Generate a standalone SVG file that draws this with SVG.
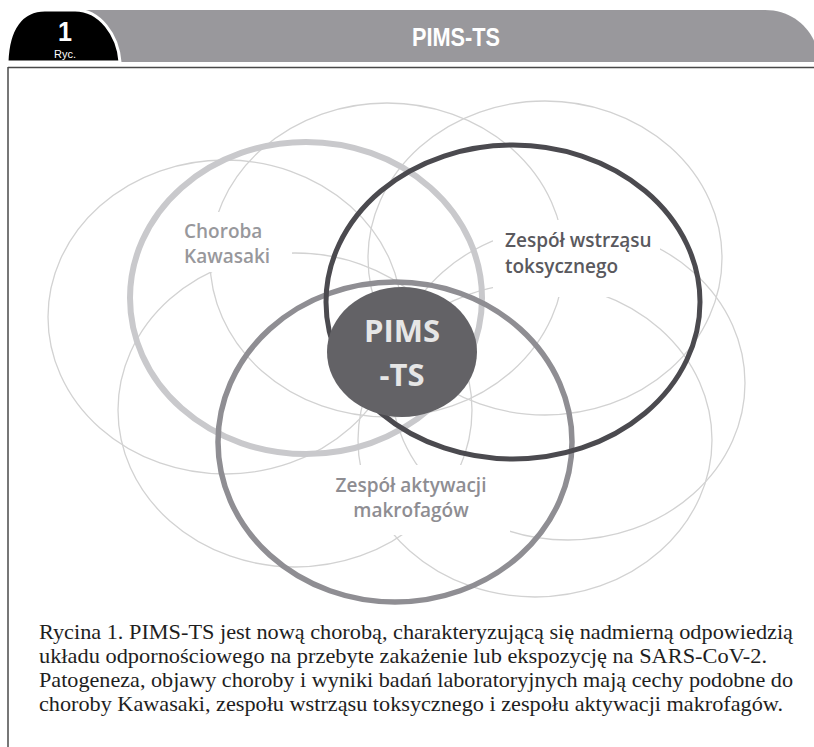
<svg xmlns="http://www.w3.org/2000/svg" width="814" height="747" viewBox="0 0 814 747">
<style>
.thin{fill:none;stroke:#d2d2d2;stroke-width:1.3}
.ring{fill:none}
.lbl{font-family:"Open Sans","Liberation Sans",sans-serif;font-weight:600;font-size:19px}
.cap{font-family:"Liberation Serif","Times New Roman",serif;font-size:21px;fill:#1e1e1e}
</style>
<defs>
<mask id="gaps" maskUnits="userSpaceOnUse" x="0" y="0" width="814" height="747">
<rect x="0" y="0" width="814" height="747" fill="#fff"/>
<rect x="178" y="212" width="114" height="60" fill="#000"/>
<rect x="493" y="220" width="167" height="77" fill="#000"/>
<rect x="325" y="465" width="185" height="70" fill="#000"/>
</mask>
</defs>
<rect x="0" y="0" width="814" height="747" fill="#fff"/>
<g id="header">
<path d="M80,10 H765 C790,10 808,25 816,45 V62 H80 Z" fill="#99989c"/>
<path d="M7,62 C8,28 22,10 45,10 L75,10 C100,10 118,35 120,62 Z" fill="#000" stroke="#fff" stroke-width="3"/>
<text x="65" y="41" text-anchor="middle" font-family="Liberation Sans, Arial, sans-serif" font-weight="bold" font-size="28" fill="#fff" textLength="14" lengthAdjust="spacingAndGlyphs">1</text>
<text x="65" y="58" text-anchor="middle" font-family="Liberation Sans, Arial, sans-serif" font-size="11" fill="#fff">Ryc.</text>
<text x="456" y="46" text-anchor="middle" font-family="Liberation Sans, Arial, sans-serif" font-weight="bold" font-size="26" fill="#fff" textLength="88" lengthAdjust="spacingAndGlyphs">PIMS-TS</text>
</g>
<g id="frame" fill="none" stroke="#4a4a4a" stroke-width="1.5">
<line x1="8" y1="67.5" x2="814" y2="67.5"/>
<line x1="8" y1="67" x2="8" y2="747"/>
</g>
<g id="connectors" mask="url(#gaps)">
<ellipse class="thin" cx="225" cy="317" rx="177" ry="157"/>
<ellipse class="thin" cx="387" cy="260" rx="177" ry="157"/>
<ellipse class="thin" cx="545" cy="258" rx="177" ry="157"/>
<ellipse class="thin" cx="568" cy="383" rx="177" ry="157"/>
<ellipse class="thin" cx="535" cy="440" rx="177" ry="157"/>
<ellipse class="thin" cx="295" cy="410" rx="177" ry="157"/>
</g>
<g id="kawasaki">
<ellipse class="ring" cx="306" cy="298" rx="176" ry="156" stroke="#c9c9cc" stroke-width="6"/>
<text class="lbl" x="184" y="238" fill="#98989c">Choroba</text>
<text class="lbl" x="184" y="263" fill="#98989c">Kawasaki</text>
</g>
<g id="makrofagi">
<ellipse class="ring" cx="395" cy="442" rx="177" ry="160" stroke="#8f8e93" stroke-width="5.5"/>
<text class="lbl" x="411" y="492" text-anchor="middle" fill="#8e8d92">Zespół aktywacji</text>
<text class="lbl" x="411" y="517" text-anchor="middle" fill="#8e8d92">makrofagów</text>
</g>
<g id="wstrzas">
<ellipse class="ring" cx="513" cy="302" rx="187" ry="157" stroke="#4b4a4f" stroke-width="5"/>
<text class="lbl" x="505" y="247" fill="#5a595e">Zespół wstrząsu</text>
<text class="lbl" x="505" y="273" fill="#5a595e">toksycznego</text>
</g>
<g id="pims">
<ellipse cx="402" cy="352" rx="75" ry="65" fill="#636266"/>
<text x="402" y="342" text-anchor="middle" font-family="Open Sans, Liberation Sans, sans-serif" font-weight="700" font-size="31" fill="#e6e6e6">PIMS</text>
<text x="402" y="386" text-anchor="middle" font-family="Open Sans, Liberation Sans, sans-serif" font-weight="700" font-size="31" fill="#e6e6e6">-TS</text>
</g>
<g id="caption">
<text class="cap" x="39" y="639" textLength="754" lengthAdjust="spacingAndGlyphs">Rycina 1. PIMS-TS jest nową chorobą, charakteryzującą się nadmierną odpowiedzią</text>
<text class="cap" x="39" y="663" textLength="728" lengthAdjust="spacingAndGlyphs">układu odpornościowego na przebyte zakażenie lub ekspozycję na SARS-CoV-2.</text>
<text class="cap" x="39" y="687" textLength="754" lengthAdjust="spacingAndGlyphs">Patogeneza, objawy choroby i wyniki badań laboratoryjnych mają cechy podobne do</text>
<text class="cap" x="39" y="711" textLength="744" lengthAdjust="spacingAndGlyphs">choroby Kawasaki, zespołu wstrząsu toksycznego i zespołu aktywacji makrofagów.</text>
</g>
</svg>
